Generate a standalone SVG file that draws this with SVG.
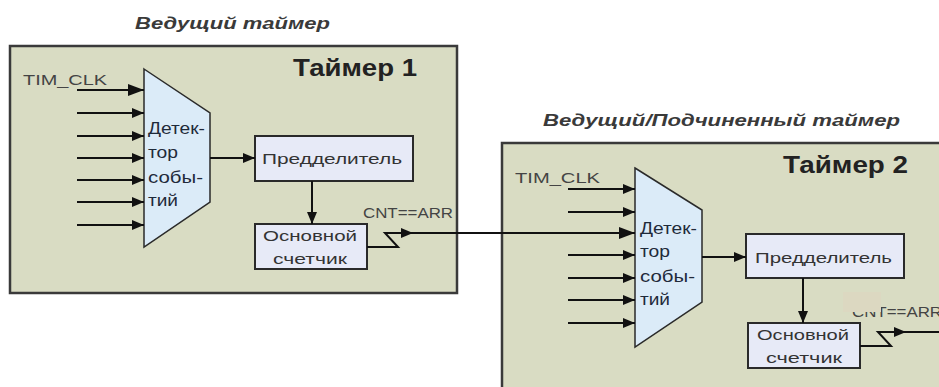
<svg xmlns="http://www.w3.org/2000/svg" width="939" height="387" viewBox="0 0 939 387">
<style>
  .timer { fill: #d9dcc3; stroke: #3a3a3a; stroke-width: 2.5; }
  .det { fill: #dbebf8; stroke: #2a2a2a; stroke-width: 1.5; }
  .blk { fill: #e7eaf7; stroke: #2a2a2a; stroke-width: 2; }
  .ln { fill: none; stroke: #111; stroke-width: 2; }
  .t { font-family: "Liberation Sans", Arial, sans-serif; fill: #333; }
  .cap { font-size: 16px; font-weight: bold; font-style: italic; fill: #3a3a3a; }
  .name { font-size: 24px; font-weight: bold; fill: #222; }
  .lbl { font-size: 14px; fill: #444; }
  .dt { font-size: 16px; fill: #1f2a3a; }
  .bt { font-size: 15px; fill: #333; }
</style>
<defs>
  <marker id="a" markerUnits="userSpaceOnUse" markerWidth="12" markerHeight="10" refX="12" refY="5" orient="auto">
    <path d="M0,0 L12,5 L0,10 Z" fill="#111"/>
  </marker>
  <marker id="ab" markerUnits="userSpaceOnUse" markerWidth="16" markerHeight="12" refX="16" refY="6" orient="auto">
    <path d="M0,0 L16,6 L0,12 Z" fill="#111"/>
  </marker>
</defs>

<text class="t cap" x="135" y="29" textLength="195" lengthAdjust="spacingAndGlyphs">Ведущий таймер</text>
<text class="t cap" x="543" y="126" textLength="357" lengthAdjust="spacingAndGlyphs">Ведущий/Подчиненный таймер</text>

<g id="timer1">
  <rect class="timer" x="10" y="46" width="447" height="247"/>
  <text class="t name" x="293" y="76" textLength="124" lengthAdjust="spacingAndGlyphs">Таймер 1</text>
  <text class="t lbl" x="23" y="85" textLength="84" lengthAdjust="spacingAndGlyphs">TIM_CLK</text>
  <text class="t lbl" x="363" y="218" textLength="90" lengthAdjust="spacingAndGlyphs">CNT==ARR</text>
</g>
<g id="timer1-detector">
  <polygon class="det" points="144,69 210,113 210,202 144,247"/>
  <text class="t dt" x="148" y="134" textLength="57" lengthAdjust="spacingAndGlyphs">Детек-</text>
  <text class="t dt" x="148" y="158" textLength="30" lengthAdjust="spacingAndGlyphs">тор</text>
  <text class="t dt" x="148" y="183" textLength="55" lengthAdjust="spacingAndGlyphs">собы-</text>
  <text class="t dt" x="148" y="206" textLength="30" lengthAdjust="spacingAndGlyphs">тий</text>
</g>
<g id="timer1-prescaler">
  <rect class="blk" x="255" y="136" width="158" height="45"/>
  <text class="t bt" x="262" y="164" textLength="140" lengthAdjust="spacingAndGlyphs">Предделитель</text>
</g>
<g id="timer1-counter">
  <rect class="blk" x="255" y="224" width="112" height="45"/>
  <text class="t bt" x="263" y="241" textLength="94" lengthAdjust="spacingAndGlyphs">Основной</text>
  <text class="t bt" x="273" y="264" textLength="74" lengthAdjust="spacingAndGlyphs">счетчик</text>
</g>

<g id="timer2">
  <rect class="timer" x="502" y="143" width="460" height="260"/>
  <text class="t name" x="783" y="173" textLength="125" lengthAdjust="spacingAndGlyphs">Таймер 2</text>
  <text class="t lbl" x="515" y="183" textLength="85" lengthAdjust="spacingAndGlyphs">TIM_CLK</text>
  <text class="t lbl" x="852" y="317" textLength="90" lengthAdjust="spacingAndGlyphs">CNT==ARR</text>
  <rect x="843" y="292" width="38" height="20" fill="#dcd8c1"/>
</g>
<g id="timer2-detector">
  <polygon class="det" points="635,168 702,210 702,302 635,347"/>
  <text class="t dt" x="640" y="234" textLength="57" lengthAdjust="spacingAndGlyphs">Детек-</text>
  <text class="t dt" x="640" y="257" textLength="30" lengthAdjust="spacingAndGlyphs">тор</text>
  <text class="t dt" x="640" y="282" textLength="55" lengthAdjust="spacingAndGlyphs">собы-</text>
  <text class="t dt" x="640" y="305" textLength="30" lengthAdjust="spacingAndGlyphs">тий</text>
</g>
<g id="timer2-prescaler">
  <rect class="blk" x="746" y="234" width="158" height="44"/>
  <text class="t bt" x="755" y="263" textLength="137" lengthAdjust="spacingAndGlyphs">Предделитель</text>
</g>
<g id="timer2-counter">
  <rect class="blk" x="748" y="323" width="112" height="45"/>
  <text class="t bt" x="757" y="340" textLength="92" lengthAdjust="spacingAndGlyphs">Основной</text>
  <text class="t bt" x="766" y="363" textLength="76" lengthAdjust="spacingAndGlyphs">счетчик</text>
</g>

<g id="connectors">
  <line class="ln" x1="77" y1="90" x2="144" y2="90" stroke-width="2.5" marker-end="url(#ab)"/>
  <line class="ln" x1="77" y1="113" x2="144" y2="113" marker-end="url(#a)"/>
  <line class="ln" x1="77" y1="136" x2="144" y2="136" marker-end="url(#a)"/>
  <line class="ln" x1="77" y1="158" x2="144" y2="158" marker-end="url(#a)"/>
  <line class="ln" x1="77" y1="180" x2="144" y2="180" marker-end="url(#a)"/>
  <line class="ln" x1="77" y1="202" x2="144" y2="202" marker-end="url(#a)"/>
  <line class="ln" x1="77" y1="225" x2="144" y2="225" marker-end="url(#a)"/>
  <line class="ln" x1="210" y1="158" x2="255" y2="158" marker-end="url(#a)"/>
  <line class="ln" x1="312" y1="181" x2="312" y2="224" marker-end="url(#a)"/>
  <polyline class="ln" points="367,247 398,247 385,233 413,233" marker-end="url(#a)"/>
  <line class="ln" x1="413" y1="233" x2="635" y2="233" marker-end="url(#ab)"/>

  <line class="ln" x1="568" y1="189" x2="635" y2="189" marker-end="url(#a)"/>
  <line class="ln" x1="568" y1="212" x2="635" y2="212" marker-end="url(#a)"/>
  <line class="ln" x1="568" y1="255" x2="635" y2="255" marker-end="url(#a)"/>
  <line class="ln" x1="568" y1="278" x2="635" y2="278" marker-end="url(#a)"/>
  <line class="ln" x1="568" y1="300" x2="635" y2="300" marker-end="url(#a)"/>
  <line class="ln" x1="568" y1="323" x2="635" y2="323" marker-end="url(#a)"/>
  <line class="ln" x1="702" y1="257" x2="746" y2="257" marker-end="url(#a)"/>
  <line class="ln" x1="803" y1="278" x2="803" y2="323" marker-end="url(#a)"/>
  <polyline class="ln" points="860,346 891,346 878,332 906,332" marker-end="url(#a)"/>
  <line class="ln" x1="906" y1="332" x2="945" y2="332"/>
</g>
</svg>
